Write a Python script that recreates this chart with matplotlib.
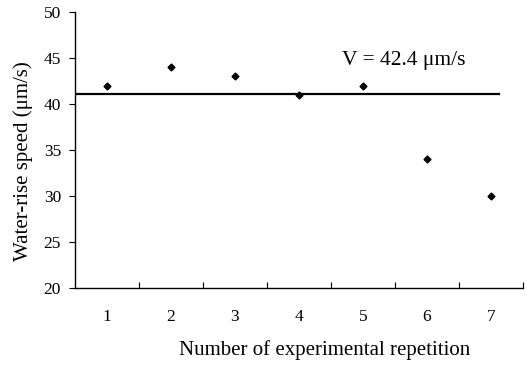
import matplotlib
matplotlib.use("Agg")
import matplotlib.pyplot as plt
import numpy as np

# Valeurs
repetitions = [1, 2, 3, 4, 5, 6, 7]
speeds = [42, 44, 43, 41, 42, 34, 30]
mean_line_y = 41.1
mean_line_x = [0.5, 7.12]
annotation = "V = 42.4 \u03bcm/s"

plt.rcParams['font.family'] = ['Liberation Serif', 'DejaVu Serif']

fig = plt.figure(figsize=(5.27, 3.66), dpi=100)
ax = fig.add_axes([0.1423, 0.2131, 0.8501, 0.7541])

ax.plot(repetitions, speeds, linestyle='none', marker='D', markersize=3.5, color='black')
ax.plot(mean_line_x, [mean_line_y, mean_line_y], color='black', linewidth=1.6)
ax.text(4.67, 44.2, annotation, fontsize=15.5, va='baseline')

ax.set_xlim(0.5, 7.5)
ax.set_ylim(20, 50)
ax.set_yticks(np.arange(20, 51, 5))
ax.tick_params(axis='y', direction='out', length=4, width=0.8, labelsize=12.5, pad=6)

# ticks de séparation entre les catégories, étiquettes au centre
ax.set_xticks(np.arange(1.5, 7.6, 1))
ax.set_xticklabels([])
ax.tick_params(axis='x', which='major', direction='in', length=4, width=0.8)
ax.set_xticks(repetitions, minor=True)
ax.set_xticklabels([str(r) for r in repetitions], minor=True)
ax.tick_params(axis='x', which='minor', length=0, labelsize=12.5, pad=15)

ax.spines['top'].set_visible(False)
ax.spines['right'].set_visible(False)
ax.spines['left'].set_linewidth(1.0)
ax.spines['bottom'].set_linewidth(1.0)

ax.set_xlabel('Number of experimental repetition', fontsize=15, labelpad=11, x=0.558)
ax.set_ylabel('Water-rise speed (\u03bcm/s)', fontsize=15, labelpad=8, y=0.458)

fig.savefig('out.png', dpi=100)
